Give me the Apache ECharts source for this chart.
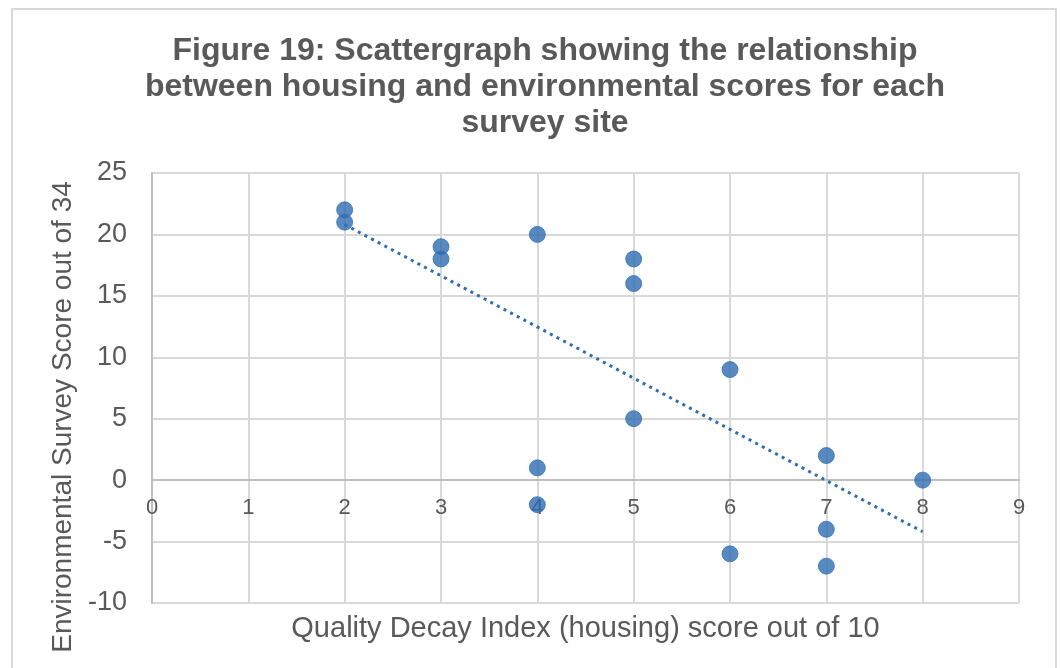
<!DOCTYPE html>
<html>
<head>
<meta charset="utf-8">
<script src="https://cdn.jsdelivr.net/npm/echarts@6/dist/echarts.min.js"></script>
<style>html,body{margin:0;padding:0;background:#fff;}#chart{width:1061px;height:668px;}</style>
</head>
<body>
<div id="chart"></div>
<script>
// Data
const housingScores = [2, 2, 3, 3, 4, 4, 4, 5, 5, 5, 6, 6, 7, 7, 7, 8];
const environmentScores = [22, 21, 19, 18, 20, 1, -2, 18, 16, 5, 9, -6, 2, -4, -7, 0];
// Trendline end points (as drawn in the reference)
const trendX = [2, 8];
const trendY = [20.8, -4.2];
const titleText = 'Figure 19: Scattergraph showing the relationship\nbetween housing and environmental scores for each\nsurvey site';
const xAxisName = 'Quality Decay Index (housing) score out of 10';
const yAxisName = 'Environmental Survey Score out of 34';

const blue = '#2e6db2';
const textColor = '#595959';
const font = 'Liberation Sans, Arial, sans-serif';

const scatterData = housingScores.map((x, i) => [x, environmentScores[i]]);
const trendData = trendX.map((x, i) => [x, trendY[i]]);

// grid geometry: top 173, bottom 603; x axis drawn where y = 0
const gridTop = 173, gridBottomPx = 603, yMin = -10, yMax = 25;
const zeroOffset = -(gridBottomPx - gridTop) * (0 - yMin) / (yMax - yMin);

const chart = echarts.init(document.getElementById('chart'), null, {renderer: 'canvas'});
chart.setOption({
  backgroundColor: '#ffffff',
  animation: false,
  graphic: [{
    type: 'rect',
    shape: {x: 12, y: 9, width: 1044, height: 700},
    style: {fill: 'none', stroke: '#d9d9d9', lineWidth: 2},
    silent: true, z: -1
  }],
  title: {
    text: titleText,
    left: 540,
    textAlign: 'center',
    top: 28,
    textStyle: {fontFamily: font, fontSize: 32, fontWeight: 'bold', color: textColor, lineHeight: 36}
  },
  grid: {left: 152, right: 42, top: gridTop, bottom: 668 - gridBottomPx, containLabel: false, outerBoundsMode: 'none'},
  xAxis: {
    type: 'value', min: 0, max: 9, interval: 1,
    position: 'bottom', offset: zeroOffset,
    name: xAxisName, nameLocation: 'middle', nameGap: 134,
    nameTextStyle: {fontFamily: font, fontSize: 29, color: textColor},
    axisLine: {show: true, onZero: false, lineStyle: {color: '#bfbfbf', width: 2}},
    axisTick: {show: false},
    axisLabel: {fontFamily: font, fontSize: 22, color: textColor, margin: 17},
    splitLine: {show: true, lineStyle: {color: '#d9d9d9', width: 2}}
  },
  yAxis: {
    type: 'value', min: yMin, max: yMax, interval: 5,
    name: yAxisName, nameLocation: 'middle', nameGap: 70,
    nameTextStyle: {fontFamily: font, fontSize: 28, color: textColor, padding: [0, 58, 0, 0]},
    axisLine: {show: true, onZero: false, lineStyle: {color: '#bfbfbf', width: 2}},
    axisTick: {show: false},
    axisLabel: {fontFamily: font, fontSize: 27, color: textColor, margin: 25},
    splitLine: {show: true, lineStyle: {color: '#d9d9d9', width: 2}}
  },
  series: [
    {
      type: 'line',
      data: trendData,
      symbol: 'none',
      lineStyle: {color: blue, width: 3, type: [3, 4.5], cap: 'butt'},
      z: 2, silent: true
    },
    {
      type: 'scatter',
      data: scatterData,
      symbol: 'circle',
      symbolSize: 16,
      itemStyle: {color: blue, borderColor: '#3573b6', borderWidth: 1},
      z: 3
    }
  ]
});
</script>
</body>
</html>
